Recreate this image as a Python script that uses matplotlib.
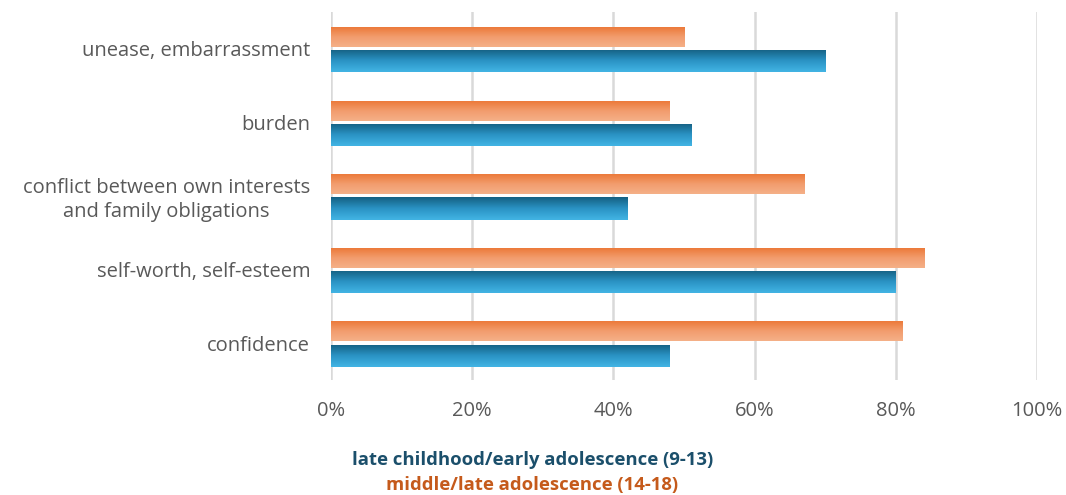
import numpy as np
import matplotlib
matplotlib.use("Agg")
import matplotlib.pyplot as plt
from matplotlib.colors import LinearSegmentedColormap

categories = ["unease, embarrassment", "burden",
              "conflict between own interests\nand family obligations",
              "self-worth, self-esteem", "confidence"]
early = [70, 51, 42, 80, 48]   # late childhood/early adolescence (9-13)
late = [50, 48, 67, 84, 81]    # middle/late adolescence (14-18)
xticks = [0, 20, 40, 60, 80, 100]
xticklabels = ["0%", "20%", "40%", "60%", "80%", "100%"]
series_names = ["late childhood/early adolescence (9-13)", "middle/late adolescence (14-18)"]

plt.rcParams['font.family'] = ['Open Sans', 'DejaVu Sans']

fig = plt.figure(figsize=(10.66, 4.95), dpi=100)
ax = fig.add_axes([0.3105, 0.2323, 0.6623, 0.7435])

n = len(categories)
ypos = np.arange(n)[::-1]  # first category at top
h_or = 0.27
h_bl = 0.30
off_or = 0.16
off_bl = -0.17

bars_bl = ax.barh(ypos + off_bl, early, height=h_bl, color='none', zorder=3)
bars_or = ax.barh(ypos + off_or, late, height=h_or, color='none', zorder=3)

cmap_bl = LinearSegmentedColormap.from_list('bl', ['#156082', '#2a93c4', '#42b4e4'])
cmap_or = LinearSegmentedColormap.from_list('or', ['#ec7a3a', '#f29d6e', '#f5b088'])
grad = np.linspace(0, 1, 64).reshape(-1, 1)

def fill_gradient(bars, cmap):
    for b in bars:
        x0, y0 = b.get_x(), b.get_y()
        w, hh = b.get_width(), b.get_height()
        im = ax.imshow(grad, cmap=cmap, aspect='auto', origin='upper',
                       extent=[x0, x0 + w, y0, y0 + hh], zorder=3,
                       interpolation='bilinear')
        im.set_clip_path(b)

fill_gradient(bars_bl, cmap_bl)
fill_gradient(bars_or, cmap_or)

ax.set_xlim(0, 100)
ax.set_ylim(-0.5, n - 0.5)
ax.set_xticks(xticks)
ax.set_xticklabels(xticklabels)
ax.set_yticks(ypos)
ax.set_yticklabels(categories, multialignment='center', linespacing=1.25)
ax.grid(axis='x', color='#d9d9d9', linewidth=1.8, zorder=0)
ax.tick_params(axis='both', length=0, labelsize=14.5, colors='#595959')
ax.tick_params(axis='x', pad=15)
ax.tick_params(axis='y', pad=15)
for s in ax.spines.values():
    s.set_visible(False)

fig.text(0.4995, 0.070, series_names[0], ha='center', va='center',
         fontsize=13.3, fontweight='bold', color='#1b4f6b')
fig.text(0.4995, 0.020, series_names[1], ha='center', va='center',
         fontsize=13.3, fontweight='bold', color='#c55a1b')

fig.savefig('out.png', dpi=100)
